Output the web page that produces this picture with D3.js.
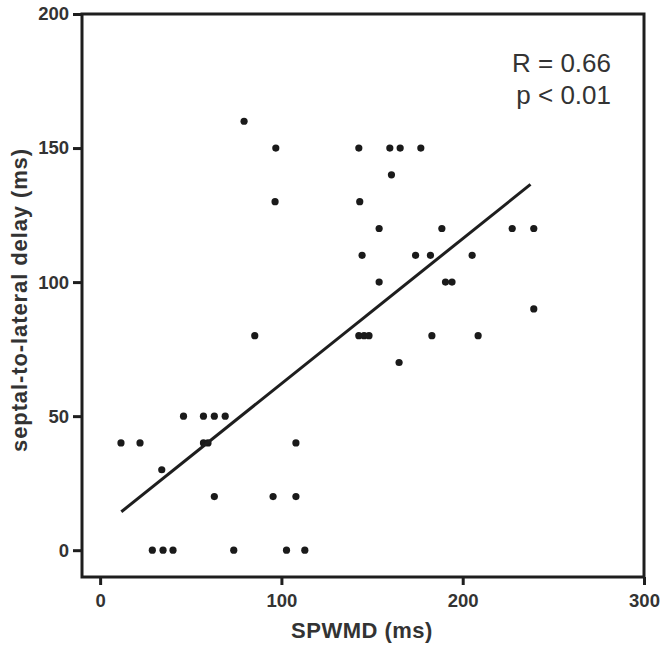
<!DOCTYPE html>
<html>
<head>
<meta charset="utf-8">
<script src="https://cdn.jsdelivr.net/npm/d3@7"></script>
<style>
  html, body { margin: 0; padding: 0; background: #ffffff; }
  svg { display: block; }
</style>
</head>
<body>
<svg id="chart" width="664" height="649"></svg>
<script>
// SPWMD (ms) values
const spwmd = [
  79.4,
  96.9, 142.7, 159.8, 165.5, 176.9,
  160.7,
  96.5, 143.2,
  153.9, 188.5, 227.3, 239.2,
  144.5, 174, 182.2, 205.2,
  153.9, 190.5, 194.1,
  239.2,
  85.3, 142.7, 145.6, 148.3, 183, 208.5,
  164.9,
  46, 57, 63, 69,
  11.5, 22, 57, 59.5, 108,
  34,
  63, 95.4, 108,
  28.8, 34.7, 40.2, 73.7, 102.8, 112.9
];
// septal-to-lateral delay (ms) values
const delay = [
  160,
  150, 150, 150, 150, 150,
  140,
  130, 130,
  120, 120, 120, 120,
  110, 110, 110, 110,
  100, 100, 100,
  90,
  80, 80, 80, 80, 80, 80,
  70,
  50, 50, 50, 50,
  40, 40, 40, 40, 40,
  30,
  20, 20, 20,
  0, 0, 0, 0, 0, 0
];
const xTicks = [0, 100, 200, 300];
const yTicks = [0, 50, 100, 150, 200];
const fitRange = [11.7, 237.4];
const fitSlope = 0.541;
const fitIntercept = 8.0;
const annotation = ["R = 0.66", "p < 0.01"];

(function () {
const svg = d3.select("#chart");
const mLeft = 82, mRight = 644, mTop = 14, mBottom = 577;

const x = d3.scaleLinear().domain([-10, 300]).range([mLeft, mRight]);
const y = d3.scaleLinear().domain([-10, 200]).range([mBottom, mTop]);

const textColor = "#333333";
const lineColor = "#1e1e1e";

// Axes
const xAxis = d3.axisBottom(x).tickValues(xTicks).tickSize(8).tickPadding(9).tickFormat(d3.format("d"));
const yAxis = d3.axisLeft(y).tickValues(yTicks).tickSize(9).tickPadding(4).tickFormat(d3.format("d"));

const gx = svg.append("g").attr("transform", `translate(0,${mBottom})`).call(xAxis);
const gy = svg.append("g").attr("transform", `translate(${mLeft},0)`).call(yAxis);
[gx, gy].forEach(g => {
  g.select(".domain").remove();
  g.selectAll(".tick line").attr("stroke", lineColor).attr("stroke-width", 3);
  g.selectAll(".tick text")
    .attr("fill", textColor)
    .style("font-family", "'Liberation Sans', Arial, sans-serif")
    .style("font-weight", "bold")
    .style("font-size", "18.5px");
});

// Frame
svg.append("rect")
  .attr("x", mLeft).attr("y", mTop)
  .attr("width", mRight - mLeft).attr("height", mBottom - mTop)
  .attr("fill", "none").attr("stroke", lineColor).attr("stroke-width", 3);

// Points
svg.append("g").selectAll("circle")
  .data(spwmd.map((v, i) => [v, delay[i]]))
  .join("circle")
  .attr("cx", d => x(d[0]))
  .attr("cy", d => y(d[1]))
  .attr("r", 3.6)
  .attr("fill", "#1a1a1a");

// Regression line
svg.append("line")
  .attr("x1", x(fitRange[0])).attr("y1", y(fitSlope * fitRange[0] + fitIntercept))
  .attr("x2", x(fitRange[1])).attr("y2", y(fitSlope * fitRange[1] + fitIntercept))
  .attr("stroke", lineColor).attr("stroke-width", 3);

// Axis titles
svg.append("text")
  .attr("x", 362).attr("y", 638)
  .attr("text-anchor", "middle")
  .attr("fill", textColor)
  .style("font-family", "'Liberation Sans', Arial, sans-serif")
  .style("font-weight", "bold")
  .style("font-size", "22px")
  .style("letter-spacing", "0.5px")
  .text("SPWMD (ms)");

svg.append("text")
  .attr("transform", "translate(27,300) rotate(-90)")
  .attr("text-anchor", "middle")
  .attr("fill", textColor)
  .style("font-family", "'Liberation Sans', Arial, sans-serif")
  .style("font-weight", "bold")
  .style("font-size", "22px")
  .style("letter-spacing", "0.9px")
  .text("septal-to-lateral delay (ms)");

// Annotation
svg.append("g").selectAll("text")
  .data(annotation)
  .join("text")
  .attr("x", 611)
  .attr("y", (d, i) => 72 + i * 32)
  .attr("text-anchor", "end")
  .attr("fill", textColor)
  .style("font-family", "'Liberation Sans', Arial, sans-serif")
  .style("font-size", "26px")
  .text(d => d);
})();
</script>
</body>
</html>
